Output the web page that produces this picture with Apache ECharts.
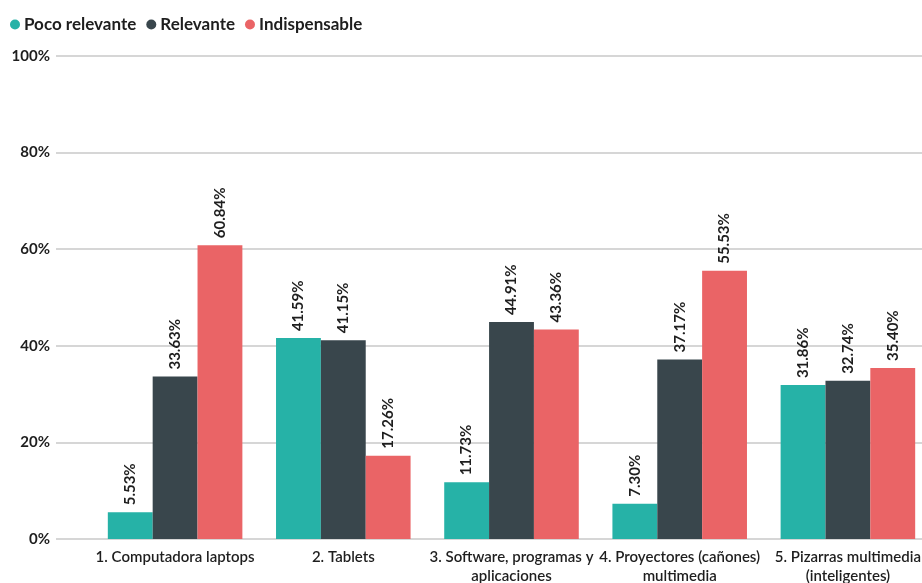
<!DOCTYPE html>
<html>
<head>
<meta charset="utf-8">
<script src="https://cdn.jsdelivr.net/npm/echarts@6/dist/echarts.min.js"></script>
<style>
  html, body { margin: 0; padding: 0; background: #fff; }
  #box { width: 922px; height: 583px; }
</style>
</head>
<body>
<div id="box"></div>
<script>
const categories = [
  "1. Computadora laptops",
  "2. Tablets",
  "3. Software, programas y\naplicaciones",
  "4. Proyectores (cañones)\nmultimedia",
  "5. Pizarras multimedia\n(inteligentes)"
];
const pocoRelevante = [5.53, 41.59, 11.73, 7.30, 31.86];
const relevante = [33.63, 41.15, 44.91, 37.17, 32.74];
const indispensable = [60.84, 17.26, 43.36, 55.53, 35.40];
const yTicks = [0, 20, 40, 60, 80, 100];

const font = "Lato, 'Open Sans', sans-serif";
const myChart = echarts.init(document.getElementById("box"));

// bar label above each bar, turned on its side
const barLabel = {
  show: true,
  position: "top",
  rotate: 90,
  align: "left",
  verticalAlign: "middle",
  distance: 7,
  fontFamily: font,
  fontWeight: "bold",
  fontSize: 15,
  color: "#1e1e1e",
  formatter: p => p.value.toFixed(2) + "%"
};

const option = {
  animation: false,
  legend: {
    left: 5,
    top: 11,
    icon: "circle",
    itemWidth: 10,
    itemHeight: 10,
    itemGap: 10,
    textStyle: { fontFamily: font, fontWeight: "bold", fontSize: 17, color: "#1e1e1e", padding: [0, 0, 0, -1] },
    data: ["Poco relevante", "Relevante", "Indispensable"]
  },
  grid: [
    // bars
    { left: 91, right: -10, top: 56, bottom: 44, outerBoundsMode: "none", containLabel: false },
    // gridlines and y labels only
    { left: 56, right: -10, top: 56, bottom: 44, outerBoundsMode: "none", containLabel: false }
  ],
  xAxis: [
    {
      type: "category",
      gridIndex: 0,
      data: categories,
      axisLine: { show: false },
      axisTick: { show: false },
      axisLabel: {
        interval: 0,
        margin: 9,
        fontFamily: font,
        fontWeight: 600,
        fontSize: 15,
        lineHeight: 19,
        color: "#1e1e1e"
      }
    },
    { type: "category", gridIndex: 1, data: categories, show: false }
  ],
  yAxis: [
    {
      type: "value",
      gridIndex: 0,
      min: 0,
      max: 100,
      interval: 20,
      show: false,
      splitLine: { show: false }
    },
    {
      type: "value",
      gridIndex: 1,
      min: yTicks[0],
      max: yTicks[yTicks.length - 1],
      interval: 20,
      axisLabel: {
        margin: 6,
        fontFamily: font,
        fontWeight: "bold",
        fontSize: 15,
        color: "#1e1e1e",
        formatter: v => v + "%"
      },
      splitLine: { lineStyle: { color: "#c8c8c8", width: 1.5 } }
    }
  ],
  series: [
    {
      name: "Poco relevante",
      type: "bar",
      data: pocoRelevante,
      barGap: "0%",
      barCategoryGap: "20%",
      itemStyle: { color: "#26b2a7" },
      label: barLabel
    },
    {
      name: "Relevante",
      type: "bar",
      data: relevante,
      itemStyle: { color: "#39464c" },
      label: barLabel
    },
    {
      name: "Indispensable",
      type: "bar",
      data: indispensable,
      itemStyle: { color: "#ea6466" },
      label: barLabel
    }
  ]
};
myChart.setOption(option);
</script>
</body>
</html>
